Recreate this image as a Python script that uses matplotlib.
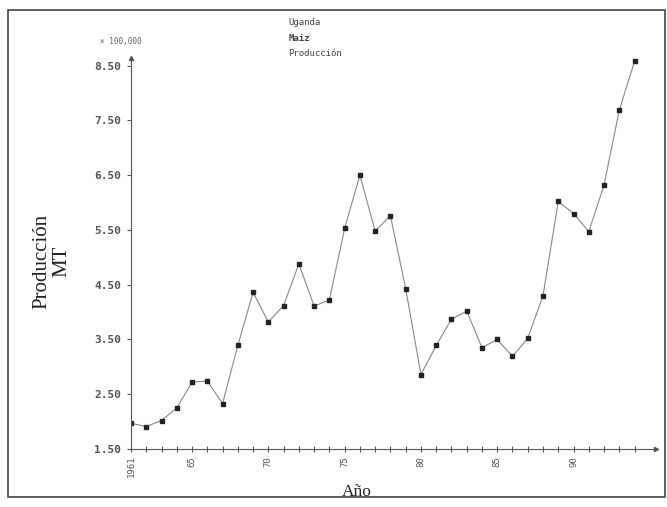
import matplotlib
matplotlib.use("Agg")
import matplotlib.pyplot as plt
from matplotlib.patches import Rectangle

# Uganda - maiz - produccion (x 100,000 MT)
years = list(range(1961, 1995))
produccion = [1.97, 1.91, 2.02, 2.25, 2.72, 2.74, 2.33, 3.39, 4.36, 3.82,
              4.12, 4.88, 4.11, 4.22, 5.53, 6.50, 5.48, 5.76, 4.43, 2.86,
              3.39, 3.87, 4.02, 3.35, 3.50, 3.19, 3.52, 4.30, 6.02, 5.80,
              5.47, 6.32, 7.69, 8.58]
y_ticks = [1.5, 2.5, 3.5, 4.5, 5.5, 6.5, 7.5, 8.5]
x_ticks = [1961, 1965, 1970, 1975, 1980, 1985, 1990]
x_ticklabels = ["1961", "65", "70", "75", "80", "85", "90"]
titulo = ["Uganda", "Maiz", "Producción"]

mono = "DejaVu Sans Mono"
serif = "Liberation Serif"
gris = "#555555"

fig = plt.figure(figsize=(6.67, 5.07), dpi=100)
fig.patches.append(Rectangle((0.012, 0.02), 0.985, 0.96, transform=fig.transFigure,
                             fill=False, edgecolor="#444444", linewidth=1.2))

ax = fig.add_axes([0.1964, 0.1144, 0.787, 0.7712])
ax.plot(years, produccion, color="#888888", linewidth=0.8,
        marker="s", markersize=3.0, markerfacecolor="#222222", markeredgecolor="#222222")

ax.set_xlim(1961, 1995.4)
ax.set_ylim(1.5, 8.64)

for s in ["top", "right"]:
    ax.spines[s].set_visible(False)
for s in ["left", "bottom"]:
    ax.spines[s].set_color(gris)
    ax.spines[s].set_linewidth(0.8)

# flechas al final de los ejes
ax.plot(1, 0, ">", transform=ax.transAxes, color=gris, markersize=3, clip_on=False)
ax.plot(0, 1, "^", transform=ax.transAxes, color=gris, markersize=3, clip_on=False)

ax.set_yticks(y_ticks)
ax.set_yticklabels([f"{v:.2f}" for v in y_ticks], fontfamily=mono, fontsize=8,
                   color="#555555", fontweight="bold")
ax.set_xticks(x_ticks)
ax.set_xticklabels(x_ticklabels, rotation=90, fontfamily=mono, fontsize=6.5, color="#555555")
ax.set_xticks(years, minor=True)
ax.tick_params(axis="y", length=3, color=gris, width=0.8, pad=4)
ax.tick_params(axis="x", which="both", length=4, direction="inout", color=gris, width=0.8, pad=3)

ax.text(-0.06, 1.035, "× 100,000", transform=ax.transAxes, fontfamily=mono,
        fontsize=5.5, color="#666666")
for i, t in enumerate(titulo):
    fig.text(0.432, 0.955 - i * 0.03, t, fontfamily=mono, fontsize=6.5,
             color="#444444", va="center", fontweight="bold" if t == "Maiz" else "normal")

fig.text(0.078, 0.485, "Producción\nMT", rotation=90, fontfamily=serif, fontsize=15,
         ha="center", va="center", linespacing=1.1, color="#222222")
fig.text(0.535, 0.03, "Año", fontfamily=serif, fontsize=12.5, ha="center",
         va="center", color="#222222")

fig.savefig("out.png", dpi=100)
